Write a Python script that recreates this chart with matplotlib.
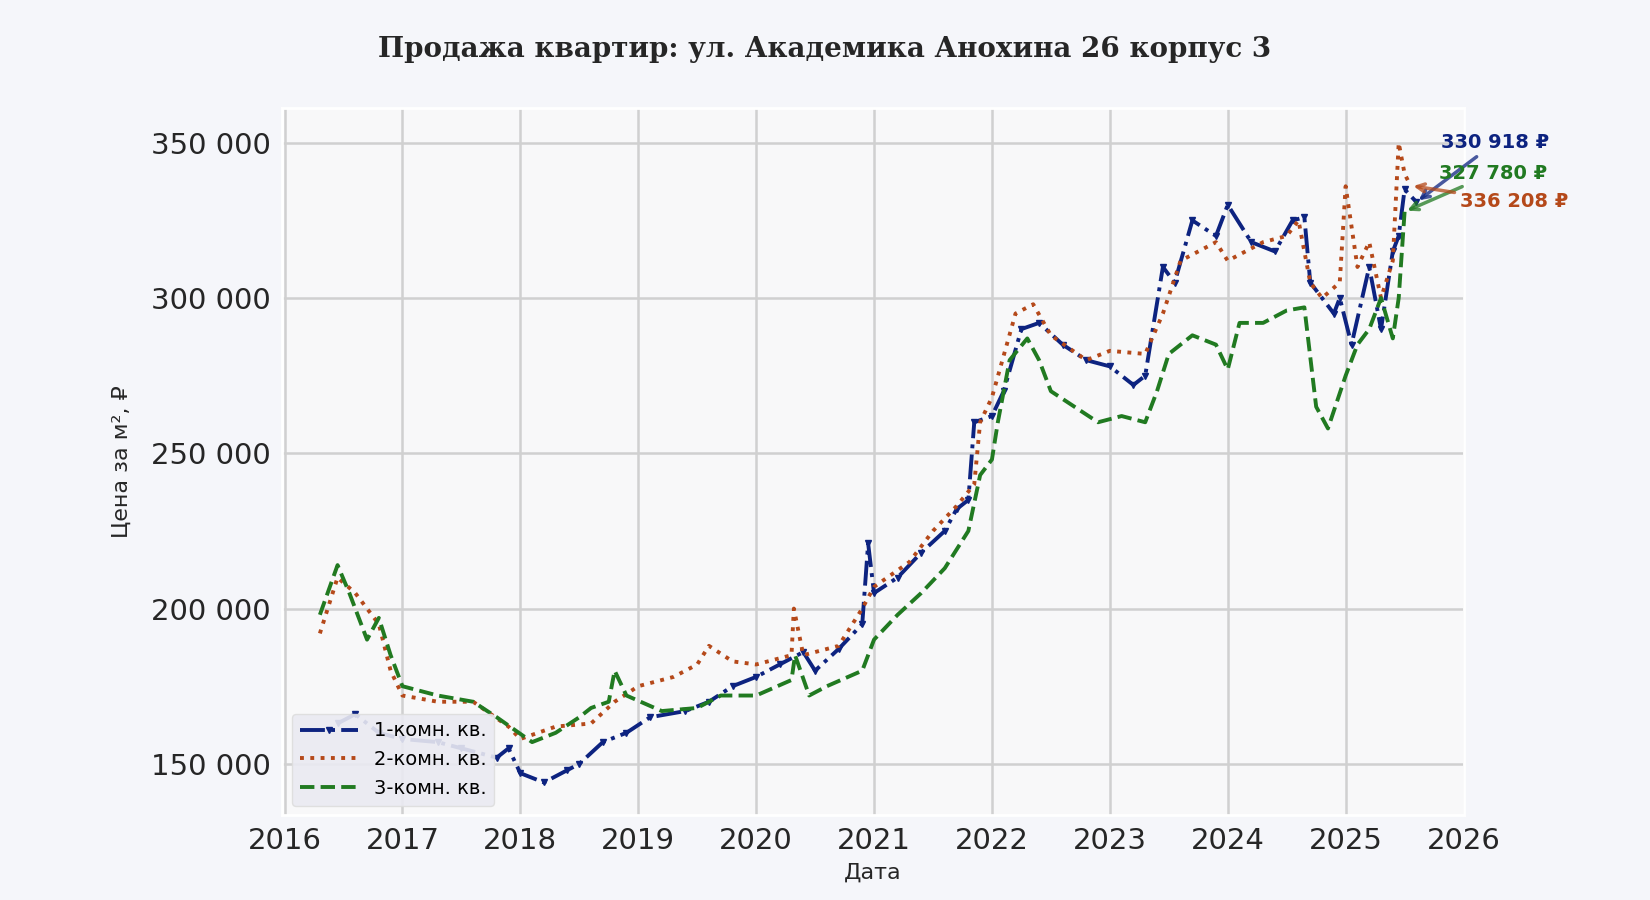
import matplotlib
matplotlib.use("Agg")
import matplotlib.pyplot as plt
from matplotlib.ticker import FuncFormatter

t1 = [2016.45,2016.6,2016.8,2017.0,2017.3,2017.5,2017.8,2017.9,2018.0,2018.2,2018.4,2018.5,2018.7,2018.9,2019.1,2019.4,2019.6,2019.8,2020.0,2020.2,2020.4,2020.5,2020.7,2020.9,2020.95,2021.0,2021.2,2021.4,2021.6,2021.7,2021.8,2021.85,2022.0,2022.1,2022.25,2022.4,2022.6,2022.8,2023.0,2023.2,2023.3,2023.45,2023.55,2023.7,2023.9,2024.0,2024.2,2024.4,2024.55,2024.65,2024.7,2024.9,2024.95,2025.05,2025.2,2025.3,2025.4,2025.45,2025.5,2025.6]
v1 = [163000,166000,160000,158000,157000,155000,152000,155000,147000,144000,148000,150000,157000,160000,165000,167000,170000,175000,178000,182000,186000,180000,187000,195000,221000,205000,210000,218000,225000,232000,235000,260000,262000,270000,290000,292000,285000,280000,278000,272000,275000,310000,305000,325000,320000,330000,318000,315000,325000,326000,305000,295000,300000,285000,310000,290000,315000,320000,335000,330918]
t2 = [2016.3,2016.45,2016.6,2016.8,2016.9,2017.0,2017.3,2017.6,2017.9,2018.0,2018.3,2018.6,2018.8,2019.0,2019.3,2019.5,2019.6,2019.8,2020.0,2020.3,2020.32,2020.4,2020.7,2020.9,2021.0,2021.3,2021.5,2021.7,2021.85,2021.9,2022.0,2022.2,2022.35,2022.5,2022.8,2023.0,2023.3,2023.45,2023.6,2023.9,2024.0,2024.3,2024.5,2024.6,2024.7,2024.8,2024.95,2025.0,2025.1,2025.2,2025.3,2025.4,2025.45,2025.5,2025.55]
v2 = [192000,210000,205000,195000,180000,172000,170000,170000,162000,158000,162000,163000,170000,175000,178000,182000,188000,183000,182000,185000,200000,185000,188000,200000,207000,215000,225000,233000,240000,260000,268000,295000,298000,288000,280000,283000,282000,295000,312000,318000,312000,318000,320000,325000,305000,300000,305000,336000,310000,318000,300000,312000,350000,340000,336208]
t3 = [2016.3,2016.45,2016.55,2016.7,2016.8,2016.9,2017.0,2017.3,2017.6,2017.8,2018.1,2018.3,2018.5,2018.6,2018.75,2018.8,2018.9,2019.2,2019.5,2019.7,2020.0,2020.3,2020.33,2020.45,2020.6,2020.9,2021.0,2021.2,2021.4,2021.6,2021.8,2021.9,2022.0,2022.05,2022.15,2022.3,2022.4,2022.5,2022.7,2022.9,2023.1,2023.3,2023.4,2023.5,2023.7,2023.9,2024.0,2024.1,2024.3,2024.5,2024.65,2024.75,2024.85,2025.0,2025.1,2025.2,2025.3,2025.4,2025.45,2025.5]
v3 = [198000,214000,205000,190000,197000,185000,175000,172000,170000,165000,157000,160000,165000,168000,170000,180000,172000,167000,168000,172000,172000,177000,185000,172000,175000,180000,190000,198000,205000,213000,225000,243000,248000,260000,280000,287000,280000,270000,265000,260000,262000,260000,270000,282000,288000,285000,277000,292000,292000,296000,297000,265000,258000,275000,285000,290000,300000,287000,300000,327780]
labels = ["1-комн. кв.", "2-комн. кв.", "3-комн. кв."]
colors = ["#0d2380", "#b5491a", "#217a21"]
last_labels = ["330 918 ₽", "327 780 ₽", "336 208 ₽"]

fig = plt.figure(figsize=(16.5, 9), dpi=100, facecolor="#f5f6fa")
ax = fig.add_axes([0.171, 0.094, 0.716, 0.786], facecolor="#f8f8f9")
ax.plot(t1, v1, color=colors[0], ls="-.", lw=2.8, marker="v", ms=5, label=labels[0])
ax.plot(t2, v2, color=colors[1], ls=":", lw=2.8, label=labels[1])
ax.plot(t3, v3, color=colors[2], ls="--", lw=2.8, label=labels[2])
ax.set_xlim(2015.98, 2026.0)
ax.set_ylim(133400, 361200)
ax.set_xticks(range(2016, 2027))
ax.xaxis.set_major_formatter(FuncFormatter(lambda x, p: f"{int(x)}"))
ax.set_yticks([150000, 200000, 250000, 300000, 350000])
ax.yaxis.set_major_formatter(FuncFormatter(lambda y, p: f"{int(y):,}".replace(",", " ")))
ax.tick_params(labelsize=21, length=0, pad=8, colors="#262626")
ax.grid(color="#d0d0d0", lw=1.8)
for s in ax.spines.values():
    s.set_color("white"); s.set_linewidth(2)
ax.set_xlabel("Дата", fontsize=16, color="#262626", labelpad=6)
ax.set_ylabel("Цена за м², ₽", fontsize=16, color="#262626", labelpad=14)
fig.suptitle("Продажа квартир: ул. Академика Анохина 26 корпус 3", y=0.96,
             fontsize=20, fontweight="bold", family="DejaVu Serif", color="#262626")

ends = [(t1[-1], v1[-1]), (t3[-1], v3[-1]), (t2[-1], v2[-1])]
txtpos = [(2025.81, 350000), (2025.79, 340200), (2025.97, 331000)]
cols = [colors[0], colors[2], colors[1]]
for (xe, ye), (xt, yt), c, l in zip(ends, txtpos, cols, [last_labels[0], last_labels[1], last_labels[2]]):
    ax.annotate(l, xy=(xe, ye), xytext=(xt, yt), color=c, fontsize=14, fontweight="bold",
                va="center", ha="left", annotation_clip=False,
                arrowprops=dict(arrowstyle="->", color=c, lw=2.5, alpha=0.75))

ax.legend(loc="lower left", fontsize=14, frameon=True, facecolor="#eaeaf2",
          edgecolor="#dddddd", framealpha=0.9, handlelength=3)
fig.savefig("out.png", dpi=100, facecolor=fig.get_facecolor())
